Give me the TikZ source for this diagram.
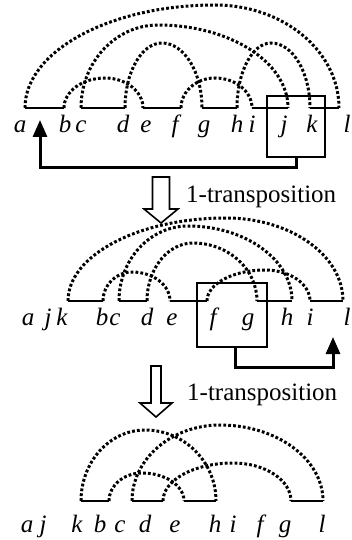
\documentclass[tikz,border=0pt]{standalone}
\usepackage{fontspec}
\setmainfont{Liberation Serif}
\usetikzlibrary{calc,arrows.meta}
\newcommand\hump[3]{\draw[dotarc] let \p1=(#1),\p2=(#2),\p3=(#3) in (#1) .. controls (\x1,{\y1+0.552*(\y2-\y1)}) and ({\x2-0.552*(\x2-\x1)},\y2) .. (#2) .. controls ({\x2+0.552*(\x3-\x2)},\y2) and (\x3,{\y3+0.552*(\y2-\y3)}) .. (#3);}
\begin{document}
\begin{tikzpicture}[x=1pt,y=1pt,
  seg/.style={line width=2.6pt},
  dotarc/.style={line width=3pt, dash pattern=on 2.8pt off 2.1pt},
  lab/.style={anchor=base, inner sep=0pt, font=\fontsize{25}{25}\selectfont\itshape},
  txt/.style={anchor=base west, inner sep=0pt, font=\fontsize{25}{25}\selectfont},
  selbox/.style={draw, line width=1.5pt, inner sep=0pt},
  moveto/.style={line width=3pt, line join=miter, -{Triangle[length=17pt,width=14pt]}},
  hollow/.style={line width=1.6pt, line join=miter}
]
\useasboundingbox (0,0) rectangle (352,-540);

% ---------- top row ----------
\foreach \n/\x in {1/25,2/64,3/81,4/125,5/143,6/181,7/202,8/237,9/252,10/288,11/310,12/339}
  \coordinate (u\n) at (\x,-108);
\coordinate (up1) at (215,-5);
\coordinate (up2) at (158,-25);
\coordinate (up3) at (105,-78);
\coordinate (up4) at (162,-43);
\coordinate (up5) at (215,-78);
\coordinate (up6) at (271,-43);
\hump{u1}{up1}{u12}
\hump{u3}{up2}{u10}
\hump{u2}{up3}{u5}
\hump{u4}{up4}{u7}
\hump{u6}{up5}{u9}
\hump{u8}{up6}{u11}
\foreach \a/\b in {1/2,3/4,5/6,7/8,9/10,11/12}
  \draw[seg] (u\a) -- (u\b);
\foreach \l/\x in {a/20,b/65,c/81,d/123,e/146,f/175,g/204,h/237,i/252,j/284,k/312,l/347}
  \node[lab] (t\l) at (\x,-133) {\l};
\node[selbox, minimum width=58pt, minimum height=61pt] (box1) at (296,-126.5) {};
\coordinate (tip1) at (40,-120);
\draw[moveto] (box1.south) -- ++(0,-9.5) -| (tip1);

% hollow arrow 1 and label
\draw[hollow] (152.5,-177) -- (152.5,-209) -- (144,-209) -- (161,-223) -- (178,-209) -- (169.5,-209) -- (169.5,-177) -- cycle;
\node[txt] (op1) at (186,-202) {1-transposition};

% ---------- middle row ----------
\foreach \n/\x in {1/68,2/103,3/119,4/147,5/170,6/207,7/257,8/292,9/310,10/343}
  \coordinate (m\n) at (\x,-301);
\coordinate (mp1) at (226,-218);
\coordinate (mp2) at (132,-272);
\coordinate (mp3) at (188,-226);
\coordinate (mp4) at (193,-243);
\coordinate (mp5) at (265,-270);
\hump{m1}{mp1}{m10}
\hump{m2}{mp2}{m5}
\hump{m3}{mp3}{m8}
\hump{m4}{mp4}{m7}
\hump{m6}{mp5}{m9}
\foreach \a/\b in {1/2,3/4,5/6,7/8,9/10}
  \draw[seg] (m\a) -- (m\b);
\foreach \l/\x in {a/28,j/48,k/62,b/102,c/115,d/147,e/172,f/213,g/248,h/287,i/310,l/347}
  \node[lab] (n\l) at (\x,-325) {\l};
\node[selbox, minimum width=70pt, minimum height=64pt] (box2) at (232,-315) {};
\coordinate (tip2) at (333,-337);
\draw[moveto] ([xshift=3pt]box2.south) -- ++(0,-20) -| (tip2);

% hollow arrow 2 and label
\draw[hollow] (151,-366) -- (151,-403) -- (140,-403) -- (156,-417) -- (172,-403) -- (161,-403) -- (161,-366) -- cycle;
\node[txt] (op2) at (187,-400) {1-transposition};

% ---------- bottom row ----------
\foreach \n/\x in {1/81,2/109,3/132,4/163,5/184,6/216,7/291,8/323}
  \coordinate (w\n) at (\x,-501);
\coordinate (wp1) at (145,-430);
\coordinate (wp2) at (142,-473);
\coordinate (wp3) at (220,-425);
\coordinate (wp4) at (233,-463);
\hump{w1}{wp1}{w6}
\hump{w2}{wp2}{w5}
\hump{w3}{wp3}{w8}
\hump{w4}{wp4}{w7}
\foreach \a/\b in {1/2,3/4,5/6,7/8}
  \draw[seg] (w\a) -- (w\b);
\foreach \l/\x in {a/27,j/43,k/77,b/100,c/120,d/145,e/175,h/215,i/233,f/260,g/285,l/322}
  \node[lab] (b\l) at (\x,-532) {\l};
\end{tikzpicture}
\end{document}
